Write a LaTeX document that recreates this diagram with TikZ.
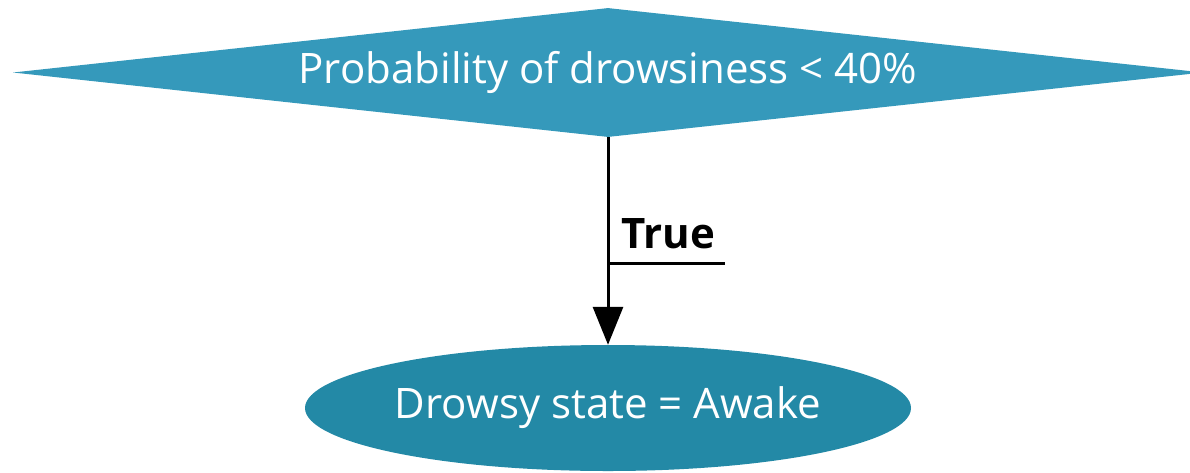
\documentclass[tikz,border=0pt]{standalone}
\usepackage{fontspec}
\setmainfont{Open Sans}
\usetikzlibrary{arrows.meta,positioning,shapes.geometric}
\definecolor{Cond}{HTML}{3599BB}
\definecolor{State}{HTML}{2389A6}

\begin{document}
\begin{tikzpicture}[
      x=1pt,y=-1pt,
      cond/.style={diamond,aspect=9.22,fill=Cond,text=white,inner sep=0pt,
        minimum width=1190pt,minimum height=129pt,font=\fontsize{42}{50}\selectfont},
      state/.style={ellipse,fill=State,text=white,inner sep=0pt,
        minimum width=606pt,minimum height=126pt,font=\fontsize{42}{50}\selectfont},
      arrow/.style={-{Triangle[length=38pt,width=30pt]},line width=3pt,color=black},
      tag/.style={font=\fontsize{42}{50}\selectfont\bfseries,inner sep=0pt}
    ]
      \useasboundingbox (0,0) rectangle (1190,472);
      \node[cond] (p) at (608,72.5) {Probability of drowsiness < 40\%};
      \node[state] (s) at (608,408) {Drowsy state = Awake};
      \draw[arrow] (p.south) -- (s.north);
      \node[tag,anchor=base west] (t) at (621,248) {True};
      \coordinate (u) at (608,263);
      \draw[line width=3pt] (u) -- ++(117,0);
    \end{tikzpicture}
\end{document}
